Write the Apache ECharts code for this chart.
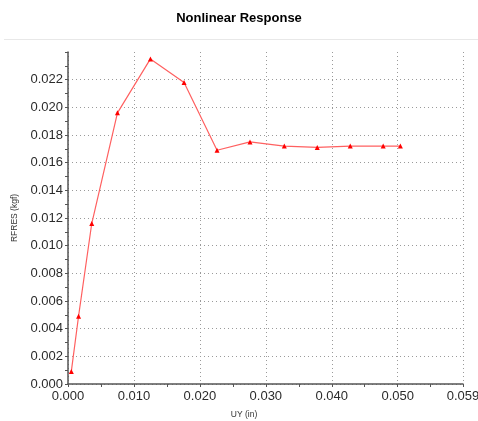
<!DOCTYPE html>
<html>
<head>
<meta charset="utf-8">
<script src="https://cdn.jsdelivr.net/npm/echarts@6/dist/echarts.min.js"></script>
<style>
  html, body { margin: 0; padding: 0; background: #fff; }
  #chart { width: 478px; height: 421px; }
</style>
</head>
<body>
<div id="chart"></div>
<script>
// displacement (in) vs reaction force (kgf)
const uy    = [0.0005, 0.0016, 0.0036, 0.0075, 0.0125, 0.0176, 0.0226, 0.0276, 0.0328, 0.0378, 0.0428, 0.0478, 0.0504]
const rfres = [0.0009, 0.0049, 0.0116, 0.0196, 0.0235, 0.0218, 0.0169, 0.0175, 0.0172, 0.0171, 0.0172, 0.0172, 0.0172]

const chart = echarts.init(document.getElementById('chart'), null, { renderer: 'canvas' })

const axisText = { color: '#2b2b2b', fontFamily: 'Liberation Sans, Arial', fontSize: 13 }
const dotted   = { color: '#9a9a9a', type: [1, 3], width: 1 }

chart.setOption({
  backgroundColor: '#fff',
  animation: false,
  title: {
    text: 'Nonlinear Response',
    left: 'center', top: 7,
    textStyle: { fontFamily: 'Liberation Sans, Arial', fontSize: 13, fontWeight: 'bold', color: '#000' },
  },
  graphic: [{
    type: 'line', shape: { x1: 4, y1: 39.5, x2: 478, y2: 39.5 },
    style: { stroke: '#e8e8e8', lineWidth: 1 }, silent: true,
  }],
  // fixed plot box, don't let v6 shrink it to fit labels
  grid: { left: 68, right: 15, top: 52, bottom: 37, outerBoundsMode: 'none', containLabel: false },
  xAxis: {
    type: 'value', min: 0, max: 0.0599, interval: 0.01,
    name: 'UY (in)', nameLocation: 'middle', nameGap: 26,
    // the original centres this on the page, not the plot -> nudge left
    nameTextStyle: { color: '#333', fontFamily: 'Liberation Sans, Arial', fontSize: 8.5, padding: [0, 43, 0, 0] },
    axisLine: { lineStyle: { color: '#555', width: 1.5 } },
    axisTick: { show: true, length: 3, lineStyle: { color: '#555' } },
    minorTick: { show: true, splitNumber: 2, length: 3, lineStyle: { color: '#555' } },
    axisLabel: { ...axisText, margin: 6, showMaxLabel: true,
      formatter: v => (Math.floor(v * 1000 + 1e-6) / 1000).toFixed(3) },
    splitLine: { show: true, lineStyle: dotted },
  },
  yAxis: {
    type: 'value', min: 0, max: 0.024, interval: 0.002,
    name: 'RFRES (kgf)', nameLocation: 'middle', nameGap: 44,
    nameTextStyle: { color: '#333', fontFamily: 'Liberation Sans, Arial', fontSize: 8.5 },
    axisLine: { show: true, lineStyle: { color: '#555', width: 1.5 } },
    axisTick: { show: true, length: 3, lineStyle: { color: '#555' } },
    minorTick: { show: true, splitNumber: 2, length: 3, lineStyle: { color: '#555' } },
    axisLabel: { ...axisText, margin: 5, showMaxLabel: false, formatter: v => v.toFixed(3) },
    splitLine: { show: true, showMaxLine: false, lineStyle: dotted },
  },
  series: [{
    type: 'line',
    data: uy.map((x, i) => [x, rfres[i]]),
    symbol: 'triangle', symbolSize: 5,
    lineStyle: { color: '#ff6060', width: 1.2 },
    itemStyle: { color: '#ff0000' },
  }],
})
</script>
</body>
</html>
